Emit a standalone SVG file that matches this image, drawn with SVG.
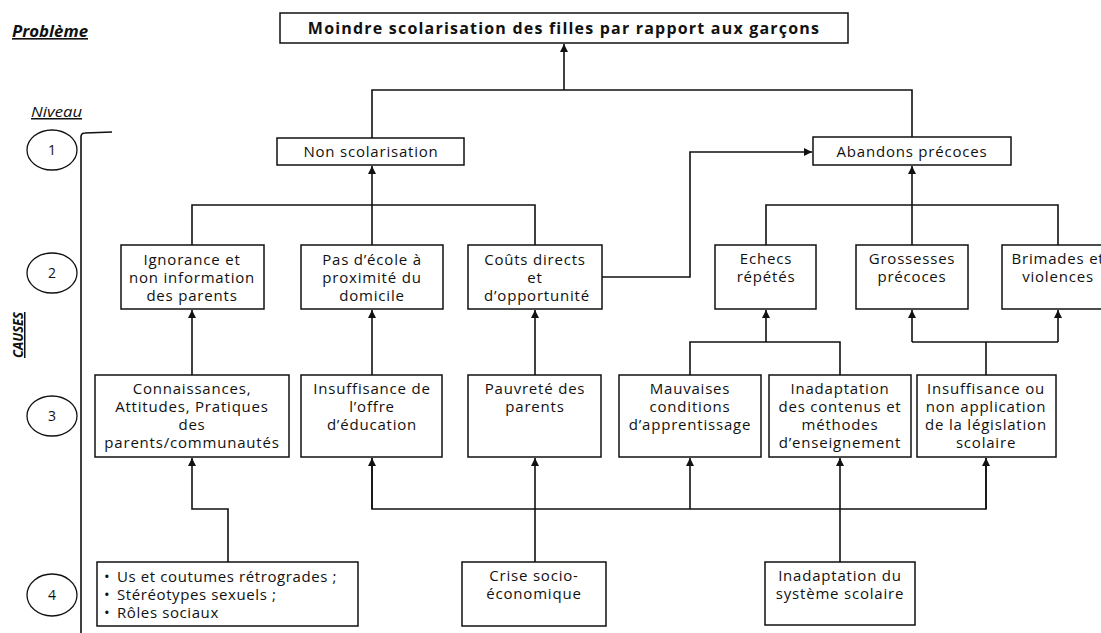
<svg xmlns="http://www.w3.org/2000/svg" width="1101" height="633" viewBox="0 0 1101 633">
<style>
.box{fill:#fff;stroke:#111;stroke-width:1.5}
.c{fill:none;stroke:#111;stroke-width:1.6}
.t{font-family:"Open Sans","Liberation Sans",sans-serif;font-size:15px;letter-spacing:0.8px;fill:#111;text-anchor:middle}
.tl{font-family:"Open Sans","Liberation Sans",sans-serif;font-size:15px;letter-spacing:0.6px;fill:#111}
.ttl{font-family:"Open Sans","Liberation Sans",sans-serif;font-size:16px;letter-spacing:1.2px;font-weight:bold;fill:#111;text-anchor:middle}
.lab{font-family:"Open Sans","Liberation Sans",sans-serif;font-style:italic;fill:#111;text-decoration:underline}
.circ{fill:#fff;stroke:#111;stroke-width:1.3}
.n{font-family:"Open Sans","Liberation Sans",sans-serif;font-size:14px;fill:#111;text-anchor:middle}
</style>
<defs>
<marker id="ar" markerUnits="userSpaceOnUse" markerWidth="9" markerHeight="9" refX="8" refY="4" orient="auto">
<path d="M0,0 L8,4 L0,8 z" fill="#111"/>
</marker>
</defs>

<g id="labels">
<text class="lab" x="12" y="37" font-weight="bold" style="font-size:16px" textLength="76" lengthAdjust="spacingAndGlyphs">Problème</text>
<text class="lab" x="31" y="117" style="font-size:15px" textLength="51" lengthAdjust="spacingAndGlyphs">Niveau</text>
<text class="lab" x="0" y="0" font-weight="bold" text-anchor="middle" transform="translate(23,335) rotate(-90)" style="font-size:15px" textLength="46" lengthAdjust="spacingAndGlyphs">CAUSES</text>
<path class="c" d="M112,132 L85,133 Q81,133 81,137 L81,633" stroke-width="1.3"/>
</g>

<g id="levels">
<g id="lvl1"><ellipse class="circ" cx="52" cy="150" rx="25" ry="20"/><text class="n" x="52" y="155">1</text></g>
<g id="lvl2"><ellipse class="circ" cx="52" cy="273" rx="25" ry="20"/><text class="n" x="52" y="278">2</text></g>
<g id="lvl3"><ellipse class="circ" cx="52" cy="416" rx="25" ry="20"/><text class="n" x="52" y="421">3</text></g>
<g id="lvl4"><ellipse class="circ" cx="52" cy="595" rx="25" ry="21"/><text class="n" x="52" y="600">4</text></g>
</g>

<g id="connectors">
<path class="c" d="M564,90 L564,44" marker-end="url(#ar)"/>
<path class="c" d="M372,138 L372,90 L912,90 L912,137"/>
<path class="c" d="M602,277 L690,277 L690,152 L812,152" marker-end="url(#ar)"/>
<path class="c" d="M192,245 L192,205 L535,205 L535,245"/>
<path class="c" d="M372,245 L372,166" marker-end="url(#ar)"/>
<path class="c" d="M766,245 L766,205 L1058,205 L1058,245"/>
<path class="c" d="M912,245 L912,166" marker-end="url(#ar)"/>
<path class="c" d="M192,375 L192,310" marker-end="url(#ar)"/>
<path class="c" d="M372,375 L372,310" marker-end="url(#ar)"/>
<path class="c" d="M535,375 L535,310" marker-end="url(#ar)"/>
<path class="c" d="M690,375 L690,342 L840,342 L840,375"/>
<path class="c" d="M766,342 L766,310" marker-end="url(#ar)"/>
<path class="c" d="M986,375 L986,342"/>
<path class="c" d="M912,342 L1058,342"/>
<path class="c" d="M912,342 L912,310" marker-end="url(#ar)"/>
<path class="c" d="M1058,342 L1058,310" marker-end="url(#ar)"/>
<path class="c" d="M228,562 L228,509 L192,509 L192,458" marker-end="url(#ar)"/>
<path class="c" d="M372,458 L372,509 L986,509 L986,458"/>
<path class="c" d="M372,509 L372,458" marker-end="url(#ar)"/>
<path class="c" d="M986,509 L986,458" marker-end="url(#ar)"/>
<path class="c" d="M535,562 L535,458" marker-end="url(#ar)"/>
<path class="c" d="M690,509 L690,458" marker-end="url(#ar)"/>
<path class="c" d="M840,562 L840,458" marker-end="url(#ar)"/>
</g>

<g id="probleme">
<rect class="box" x="280" y="13" width="568" height="30"/>
<text class="ttl" x="564" y="34">Moindre scolarisation des filles par rapport aux garçons</text>
</g>

<g id="non-scolarisation">
<rect class="box" x="277" y="138" width="187" height="27"/>
<text class="t" x="371" y="157">Non scolarisation</text>
</g>
<g id="abandons">
<rect class="box" x="813" y="137" width="198" height="28"/>
<text class="t" x="912" y="157">Abandons précoces</text>
</g>

<g id="ignorance">
<rect class="box" x="121" y="245" width="143" height="64"/>
<text class="t" x="192" y="265">Ignorance et</text>
<text class="t" x="192" y="283">non information</text>
<text class="t" x="192" y="301">des parents</text>
</g>
<g id="pas-ecole">
<rect class="box" x="301" y="245" width="142" height="64"/>
<text class="t" x="372" y="265">Pas d’école à</text>
<text class="t" x="372" y="283">proximité du</text>
<text class="t" x="372" y="301">domicile</text>
</g>
<g id="couts">
<rect class="box" x="468" y="245" width="134" height="64"/>
<text class="t" x="535" y="265">Coûts directs</text>
<text class="t" x="535" y="283">et</text>
<text class="t" x="537" y="301">d’opportunité</text>
</g>
<g id="echecs">
<rect class="box" x="715" y="245" width="101" height="64"/>
<text class="t" x="766" y="264">Echecs</text>
<text class="t" x="766" y="282">répétés</text>
</g>
<g id="grossesses">
<rect class="box" x="856" y="245" width="112" height="64"/>
<text class="t" x="912" y="264">Grossesses</text>
<text class="t" x="912" y="282">précoces</text>
</g>
<g id="brimades">
<rect class="box" x="1002" y="245" width="113" height="64"/>
<text class="t" x="1058" y="264">Brimades et</text>
<text class="t" x="1058" y="282">violences</text>
</g>

<g id="connaissances">
<rect class="box" x="95" y="375" width="194" height="82"/>
<text class="t" x="192" y="394">Connaissances,</text>
<text class="t" x="192" y="412">Attitudes, Pratiques</text>
<text class="t" x="192" y="430">des</text>
<text class="t" x="192" y="448">parents/communautés</text>
</g>
<g id="insuffisance-offre">
<rect class="box" x="301" y="375" width="141" height="82"/>
<text class="t" x="372" y="394">Insuffisance de</text>
<text class="t" x="372" y="412">l’offre</text>
<text class="t" x="372" y="430">d’éducation</text>
</g>
<g id="pauvrete">
<rect class="box" x="468" y="375" width="133" height="82"/>
<text class="t" x="535" y="394">Pauvreté des</text>
<text class="t" x="535" y="412">parents</text>
</g>
<g id="mauvaises">
<rect class="box" x="619" y="375" width="142" height="82"/>
<text class="t" x="690" y="394">Mauvaises</text>
<text class="t" x="690" y="412">conditions</text>
<text class="t" x="690" y="430">d’apprentissage</text>
</g>
<g id="inadaptation-contenus">
<rect class="box" x="769" y="375" width="142" height="82"/>
<text class="t" x="840" y="394">Inadaptation</text>
<text class="t" x="840" y="412">des contenus et</text>
<text class="t" x="840" y="430">méthodes</text>
<text class="t" x="840" y="448">d’enseignement</text>
</g>
<g id="legislation">
<rect class="box" x="917" y="375" width="139" height="82"/>
<text class="t" x="986" y="394">Insuffisance ou</text>
<text class="t" x="986" y="412">non application</text>
<text class="t" x="986" y="430">de la législation</text>
<text class="t" x="986" y="448">scolaire</text>
</g>

<g id="us-coutumes">
<rect class="box" x="97" y="562" width="261" height="64"/>
<text class="tl" x="104" y="582">•</text><text class="tl" x="117" y="582">Us et coutumes rétrogrades ;</text>
<text class="tl" x="104" y="600">•</text><text class="tl" x="117" y="600">Stéréotypes sexuels ;</text>
<text class="tl" x="104" y="618">•</text><text class="tl" x="117" y="618">Rôles sociaux</text>
</g>
<g id="crise">
<rect class="box" x="462" y="562" width="144" height="64"/>
<text class="t" x="534" y="581">Crise socio-</text>
<text class="t" x="534" y="599">économique</text>
</g>
<g id="inadaptation-systeme">
<rect class="box" x="765" y="562" width="150" height="63"/>
<text class="t" x="840" y="581">Inadaptation du</text>
<text class="t" x="840" y="599">système scolaire</text>
</g>
</svg>
